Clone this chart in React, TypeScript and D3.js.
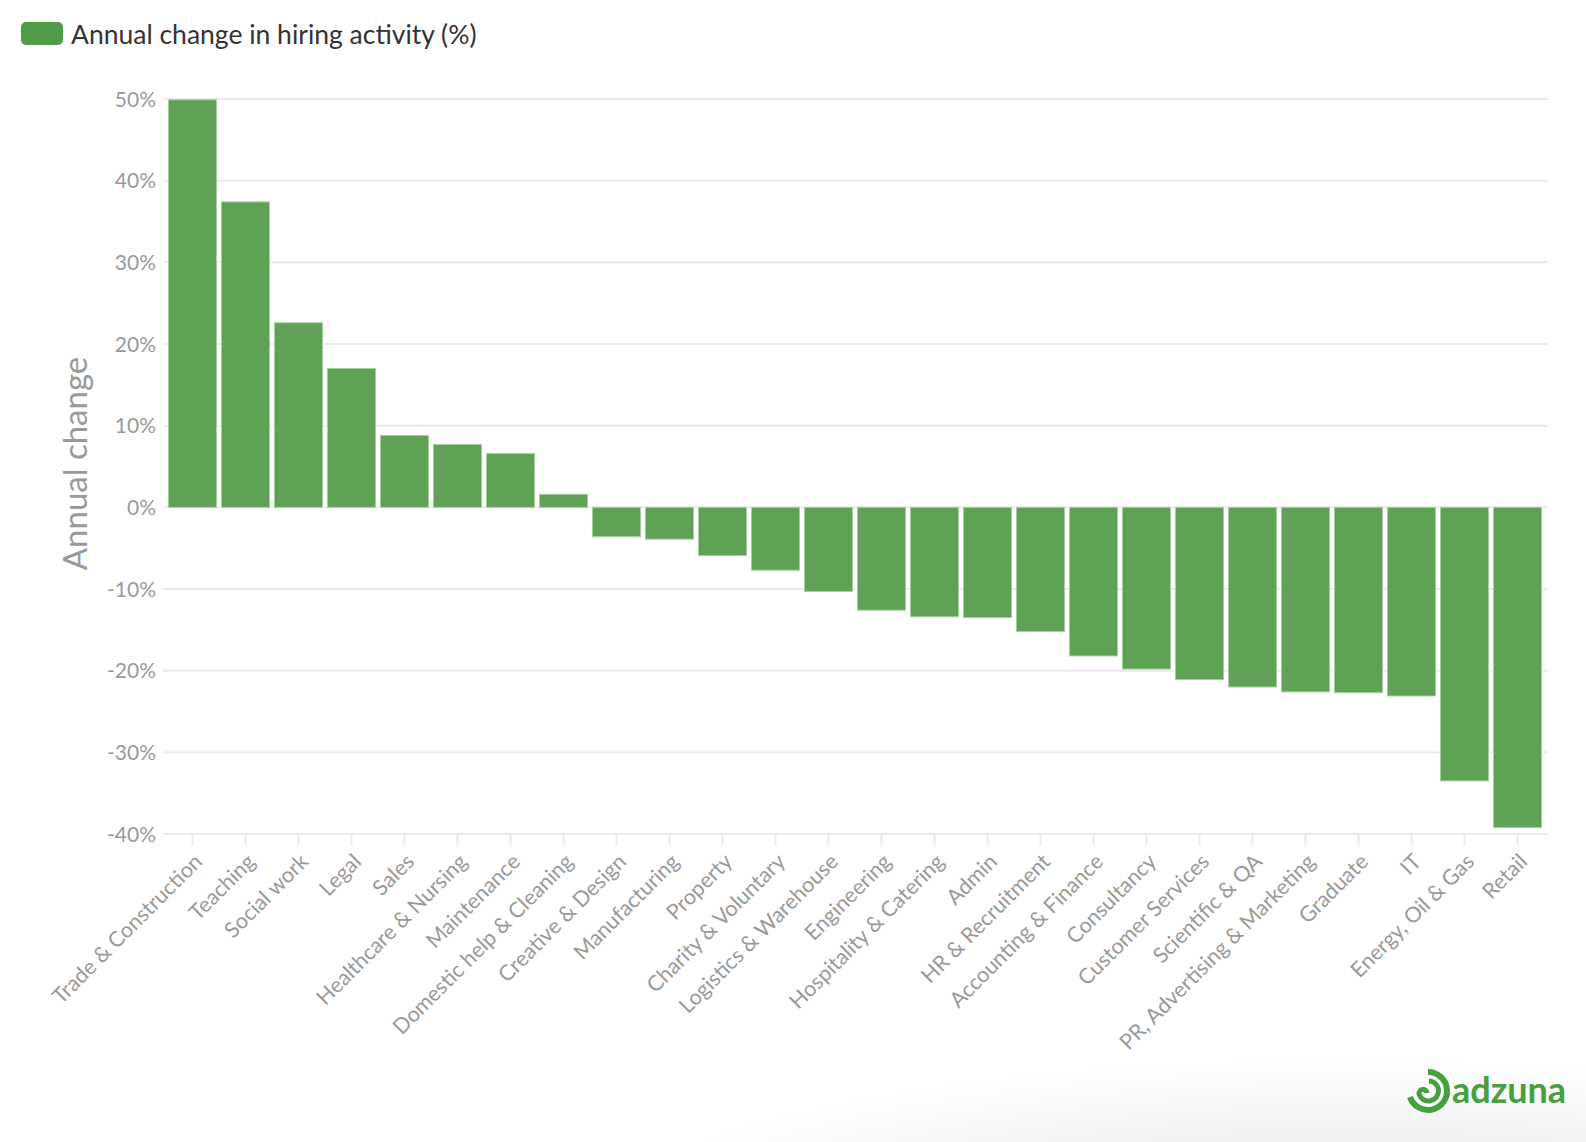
import * as d3 from "d3";
import React, { useRef, useEffect } from "react";

const width = 1586;
const height = 1142;
const margin = { top: 99, right: 42, bottom: 307, left: 166 };

const categories = [
  "Trade & Construction", "Teaching", "Social work", "Legal", "Sales",
  "Healthcare & Nursing", "Maintenance", "Domestic help & Cleaning",
  "Creative & Design", "Manufacturing", "Property", "Charity & Voluntary",
  "Logistics & Warehouse", "Engineering", "Hospitality & Catering", "Admin",
  "HR & Recruitment", "Accounting & Finance", "Consultancy",
  "Customer Services", "Scientific & QA", "PR, Advertising & Marketing",
  "Graduate", "IT", "Energy, Oil & Gas", "Retail",
];
const changes = [
  49.9, 37.4, 22.6, 17.0, 8.8, 7.7, 6.6, 1.6, -3.6, -3.9, -5.9, -7.7, -10.3,
  -12.6, -13.4, -13.5, -15.2, -18.2, -19.8, -21.1, -22.0, -22.6, -22.7,
  -23.1, -33.5, -39.2,
];
const yTicks = [50, 40, 30, 20, 10, 0, -10, -20, -30, -40];

const font = "'Source Sans Pro', Lato, 'Noto Sans', sans-serif";

export default function App() {
  const ref = useRef(null);

  useEffect(() => {
    const svg = d3.select(ref.current);
    svg.selectAll("*").remove();

    // background shade bottom right
    const defs = svg.append("defs");
    const grad = defs
      .append("radialGradient")
      .attr("id", "shade")
      .attr("cx", "0.5")
      .attr("cy", "0.5")
      .attr("r", "0.5");
    grad.append("stop").attr("offset", "0%").attr("stop-color", "#e9e9e9");
    grad.append("stop").attr("offset", "60%").attr("stop-color", "#f3f3f3");
    grad.append("stop").attr("offset", "100%").attr("stop-color", "#ffffff");
    svg
      .append("ellipse")
      .attr("cx", 1350)
      .attr("cy", 1230)
      .attr("rx", 760)
      .attr("ry", 170)
      .attr("fill", "url(#shade)");

    var x = d3
      .scaleBand()
      .domain(categories)
      .range([margin.left, width - margin.right])
      .paddingInner(0.094)
      .paddingOuter(0.047);

    var y = d3
      .scaleLinear()
      .domain([-40, 50])
      .range([height - margin.bottom - 1, margin.top]);

    // grid
    svg
      .append("g")
      .selectAll("line")
      .data(yTicks)
      .join("line")
      .attr("x1", margin.left - 3)
      .attr("x2", width - margin.right + 4)
      .attr("y1", (d: number) => y(d))
      .attr("y2", (d: number) => y(d))
      .attr("stroke", "#ebebeb")
      .attr("stroke-width", 2);

    // y labels
    svg
      .append("g")
      .selectAll("text")
      .data(yTicks)
      .join("text")
      .attr("x", 156)
      .attr("y", (d: number) => y(d))
      .attr("dy", "0.36em")
      .attr("text-anchor", "end")
      .style("font-family", font)
      .style("font-size", "21px")
      .attr("fill", "#999")
      .text((d: number) => d + "%");

    // y title
    svg
      .append("text")
      .attr("transform", `translate(87, ${y(5) - 3}) rotate(-90)`)
      .attr("text-anchor", "middle")
      .style("font-family", font)
      .style("font-size", "33px")
      .attr("fill", "#999")
      .text("Annual change");

    // x ticks
    const axisY = y(-40);
    svg
      .append("g")
      .selectAll("line")
      .data(categories)
      .join("line")
      .attr("x1", (d: string) => (x(d) as number) + x.bandwidth() / 2)
      .attr("x2", (d: string) => (x(d) as number) + x.bandwidth() / 2)
      .attr("y1", axisY)
      .attr("y2", axisY + 11)
      .attr("stroke", "#ebebeb")
      .attr("stroke-width", 2);

    // x labels
    svg
      .append("g")
      .selectAll("text")
      .data(categories)
      .join("text")
      .attr(
        "transform",
        (d: string) =>
          `translate(${(x(d) as number) + x.bandwidth() / 2 + 11}, ${axisY + 29}) rotate(-45)`
      )
      .attr("text-anchor", "end")
      .style("font-family", font)
      .style("font-size", "21.5px")
      .attr("fill", "#999")
      .text((d: string) => d);

    // bars
    svg
      .append("g")
      .selectAll("rect")
      .data(changes)
      .join("rect")
      .attr("x", (d: number, i: number) => x(categories[i]) as number)
      .attr("y", (d: number) => y(Math.max(0, d)))
      .attr("width", x.bandwidth())
      .attr("height", (d: number) => Math.abs(y(d) - y(0)))
      .attr("fill", "#5fa256")
      .attr("stroke", "#a6cfa1")
      .attr("stroke-width", 1);

    // legend
    svg
      .append("rect")
      .attr("x", 21)
      .attr("y", 22)
      .attr("width", 42)
      .attr("height", 23)
      .attr("rx", 5)
      .attr("fill", "#519b49");
    svg
      .append("text")
      .attr("x", 71)
      .attr("y", 44)
      .style("font-family", font)
      .style("font-size", "26.5px")
      .attr("fill", "#333")
      .text("Annual change in hiring activity (%)");

    // logo
    const logo = svg.append("g").attr("transform", "translate(1428, 1091)");
    logo
      .append("path")
      .attr("d", "M 0 -19 A 19 19 0 1 1 -18 6")
      .attr("fill", "none")
      .attr("stroke", "#46a03d")
      .attr("stroke-width", 6);
    logo
      .append("path")
      .attr("d", "M 1 -10 A 10 10 0 1 1 -9 3 A 4 4 0 0 1 -1 2")
      .attr("fill", "none")
      .attr("stroke", "#46a03d")
      .attr("stroke-width", 5);
    svg
      .append("text")
      .attr("x", 1452)
      .attr("y", 1103)
      .style("font-family", "Lato, sans-serif")
      .style("font-size", "36px")
      .style("font-weight", "bold")
      .attr("fill", "#46a03d")
      .text("adzuna");
  }, []);

  return (
    <svg
      ref={ref}
      width={width}
      height={height}
      viewBox={`0 0 ${width} ${height}`}
      style={{ position: "absolute", left: 0, top: 0, background: "#fff" }}
    ></svg>
  );
}
